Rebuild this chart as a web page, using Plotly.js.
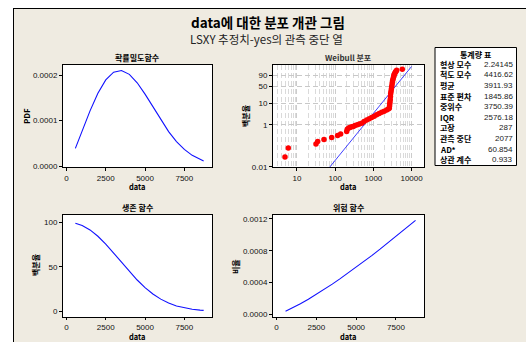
<!DOCTYPE html>
<html>
<head>
<meta charset="utf-8">
<script src="https://cdn.plot.ly/plotly-3.0.1.min.js"></script>
<style>html,body{margin:0;padding:0;background:#fff;}#chart{width:526px;height:342px;}</style>
</head>
<body>
<div id="chart"></div>
<script>
// ---- data ----
const curveX   = [567, 1000, 1500, 2000, 2500, 3000, 3500, 4000, 4500, 5000, 5500, 6000, 6500, 7000, 7500, 8000, 8500, 8729];
const pdfVals  = [0.0000393, 0.0000775, 0.0001215, 0.0001602, 0.0001894, 0.0002063, 0.0002100, 0.0002015, 0.0001831, 0.0001581, 0.0001299, 0.0001017, 0.0000761, 0.0000543, 0.0000370, 0.0000240, 0.0000149, 0.0000118];
const survVals = [99.0, 96.5, 91.5, 84.4, 75.6, 65.7, 55.2, 44.9, 35.2, 26.7, 19.5, 13.7, 9.3, 6.0, 3.8, 2.3, 1.3, 1.0];
const hazVals  = [0.0000397, 0.0000803, 0.0001328, 0.0001898, 0.0002504, 0.0003140, 0.0003802, 0.0004488, 0.0005194, 0.0005920, 0.0006664, 0.0007424, 0.0008199, 0.0008988, 0.0009793, 0.001061, 0.001144, 0.001182];

// Weibull probability plot points (data, percent)
const wbX = [4.85, 5.92, 31.4, 34.8, 50.9, 80.9, 116, 139, 200, 207,
             225, 244, 270, 298, 330, 379, 430, 494, 570, 668, 780, 903, 1050, 1220, 1420, 1650, 1920, 2230, 2450, 2610,
             2650, 2680, 2720, 2760, 2800, 2840, 2900, 2960, 3010, 3080, 3140, 3200, 3300, 3380, 3460, 3560, 3700, 3800, 3910, 4070, 5710];
const wbP = [0.030, 0.079, 0.122, 0.163, 0.203, 0.253, 0.315, 0.362, 0.484, 0.62,
             0.70, 0.75, 0.80, 0.84, 0.92, 1.00, 1.08, 1.18, 1.42, 1.71, 1.95, 2.19, 2.55, 2.95, 3.40, 3.88, 4.40, 5.0, 5.5, 5.9,
             7.5, 9.5, 11.8, 15, 20, 26.7, 33, 40, 47.6, 56, 65, 73.7, 80, 86, 90, 93, 95, 96.2, 97.2, 98.1, 98.8];
const fitX = [66, 10000];
const fitP = [0.0081, 99.75];

const wbTickLabels = ['0.01', '1', '10', '50', '90'];
const wbTickP      = [0.01, 1, 10, 50, 90];
const xTicks       = [0, 2500, 5000, 7500];

const statLabels = ['형상 모수', '척도 모수', '평균', '표준 편차', '중위수', 'IQR', '고장', '관측 중단', 'AD*', '상관 계수'];
const statValues = ['2.24145', '4416.62', '3911.93', '1845.86', '3750.39', '2576.18', '287', '2077', '60.854', '0.933'];

// ---- helpers ----
const W = 526, H = 342;
const px = x => x / W;
const py = y => 1 - y / H;
const wb = p => Math.log(-Math.log(1 - p / 100));   // Weibull probability scale
const F = 'Liberation Sans, Arial, Noto Sans CJK KR, sans-serif';
const FK = 'Noto Sans CJK KR, Liberation Sans, sans-serif';
const BG = '#efebe1';

const axBase = {
  showline: true, mirror: true, linecolor: '#000', linewidth: 1,
  ticks: 'outside', ticklen: 3, tickcolor: '#000', tickwidth: 1,
  tickfont: {family: F, size: 8, color: '#111'},
  showgrid: false, zeroline: false, fixedrange: true
};
const xr = [-220, 9260];
const dTop = [py(167), py(65)];
const dBot = [py(317), py(215)];
const dLeft = [px(63), px(212)];
const dRight = [px(273), px(424)];

const minorVals = [];
[1, 10, 100, 1000].forEach(d => { for (let k = 2; k <= 9; k++) minorVals.push(k * d); });

const traces = [
  {x: curveX, y: pdfVals, xaxis: 'x', yaxis: 'y', mode: 'lines', line: {color: '#1010ff', width: 1.1}, hoverinfo: 'skip'},
  {x: fitX, y: fitP.map(wb), xaxis: 'x2', yaxis: 'y2', mode: 'lines', line: {color: '#2a2aff', width: 0.9}, hoverinfo: 'skip'},
  {x: wbX, y: wbP.map(wb), xaxis: 'x2', yaxis: 'y2', mode: 'markers', marker: {color: '#ff0000', size: 5.5, line: {width: 0}}, hoverinfo: 'skip'},
  {x: curveX, y: survVals, xaxis: 'x3', yaxis: 'y3', mode: 'lines', line: {color: '#1010ff', width: 1.1}, hoverinfo: 'skip'},
  {x: curveX, y: hazVals, xaxis: 'x4', yaxis: 'y4', mode: 'lines', line: {color: '#1010ff', width: 1.1}, hoverinfo: 'skip'}
];

const ann = (text, x, y, size, opts) => Object.assign({
  text: text, x: px(x), y: py(y), xref: 'paper', yref: 'paper',
  xanchor: 'center', yanchor: 'middle', showarrow: false, borderpad: 0,
  font: {family: FK, size: size, color: '#000'}
}, opts || {});

const annotations = [
  ann('<b>data에 대한 분포 개관 그림</b>', 268, 22, 13.5),
  ann('LSXY 추정치-yes의 관측 중단 열', 266, 39, 11.5, {font: {family: FK, size: 11.5, color: '#222'}}),
  ann('<b>확률밀도함수</b>', 137.5, 58, 8),
  ann('<b>Weibull 분포</b>', 348.5, 57.5, 8, {font: {family: FK, size: 8, color: '#333'}}),
  ann('<b>생존 함수</b>', 137.5, 207.5, 8),
  ann('<b>위험 함수</b>', 348.5, 207, 8),
  ann('<b>data</b>', 137.5, 186, 7.5),
  ann('<b>data</b>', 348.5, 186, 7.5),
  ann('<b>data</b>', 137.5, 336.5, 7.5),
  ann('<b>data</b>', 348.5, 336.5, 7.5),
  ann('<b>PDF</b>', 26, 116, 8, {textangle: -90}),
  ann('<b>백분율</b>', 245, 116, 8, {textangle: -90}),
  ann('<b>백분율</b>', 35, 265, 8, {textangle: -90}),
  ann('<b>비율</b>', 235, 267, 8, {textangle: -90}),
  ann('<b>통계량 표</b>', 476, 54, 8)
];
const rowY0 = 64.3, rowDy = 10.6;
statLabels.forEach((s, i) => {
  annotations.push(ann('<b>' + s + '</b>', 439, rowY0 + i * rowDy, 8, {xanchor: 'left'}));
  annotations.push(ann(statValues[i], 514, rowY0 + i * rowDy, 8, {xanchor: 'right', font: {family: F, size: 8, color: '#222'}}));
});

const shapes = [
  {type: 'rect', xref: 'paper', yref: 'paper', x0: 0, x1: px(13), y0: 0, y1: 1, fillcolor: '#fff', line: {width: 0}},
  {type: 'rect', xref: 'paper', yref: 'paper', x0: 0, x1: 1, y0: py(8), y1: 1, fillcolor: '#fff', line: {width: 0}},
  {type: 'line', xref: 'paper', yref: 'paper', x0: px(13.5), x1: px(13.5), y0: 0, y1: py(8), line: {color: '#000', width: 1}},
  {type: 'line', xref: 'paper', yref: 'paper', x0: px(13.5), x1: 1, y0: py(8.5), y1: py(8.5), line: {color: '#000', width: 1}},
  {type: 'rect', xref: 'paper', yref: 'paper', x0: px(435), x1: px(516.5), y0: py(165.5), y1: py(47.5), fillcolor: '#fff', line: {color: '#000', width: 1}}
];

const layout = {
  width: W, height: H, autosize: false,
  margin: {l: 0, r: 0, t: 0, b: 0},
  paper_bgcolor: BG, plot_bgcolor: '#fff',
  showlegend: false,
  xaxis:  Object.assign({}, axBase, {domain: dLeft, anchor: 'y', range: xr, tickvals: xTicks}),
  yaxis:  Object.assign({}, axBase, {domain: dTop, anchor: 'x', range: [-0.0000015, 0.000222], tickvals: [0, 0.0001, 0.0002], tickformat: '.4f'}),
  xaxis2: Object.assign({}, axBase, {domain: dRight, anchor: 'y2', type: 'log', range: [0.372, 4.325],
            tickvals: [10, 100, 1000, 10000], ticktext: ['10', '100', '1000', '10000'],
            showgrid: true, gridcolor: '#cccccc', griddash: '5px,3px', gridwidth: 1,
            minor: {tickmode: 'array', tickvals: minorVals, showgrid: true, gridcolor: '#dadada', griddash: '5px,3px', gridwidth: 1, ticks: ''}}),
  yaxis2: Object.assign({}, axBase, {domain: dTop, anchor: 'x2', range: [-9.22, 1.95],
            tickvals: wbTickP.map(wb), ticktext: wbTickLabels,
            showgrid: true, gridcolor: '#c8c8c8', griddash: '5px,3px', gridwidth: 1}),
  xaxis3: Object.assign({}, axBase, {domain: dLeft, anchor: 'y3', range: xr, tickvals: xTicks, ticklen: 2}),
  yaxis3: Object.assign({}, axBase, {domain: dBot, anchor: 'x3', range: [-6.4, 108.3], tickvals: [0, 50, 100]}),
  xaxis4: Object.assign({}, axBase, {domain: dRight, anchor: 'y4', range: xr, tickvals: xTicks, ticklen: 2}),
  yaxis4: Object.assign({}, axBase, {domain: dBot, anchor: 'x4', range: [-0.000034, 0.00125], tickvals: [0, 0.0004, 0.0008, 0.0012], tickformat: '.4f'}),
  annotations: annotations,
  shapes: shapes
};

Plotly.newPlot('chart', traces, layout, {staticPlot: true, displayModeBar: false});
</script>
</body>
</html>
